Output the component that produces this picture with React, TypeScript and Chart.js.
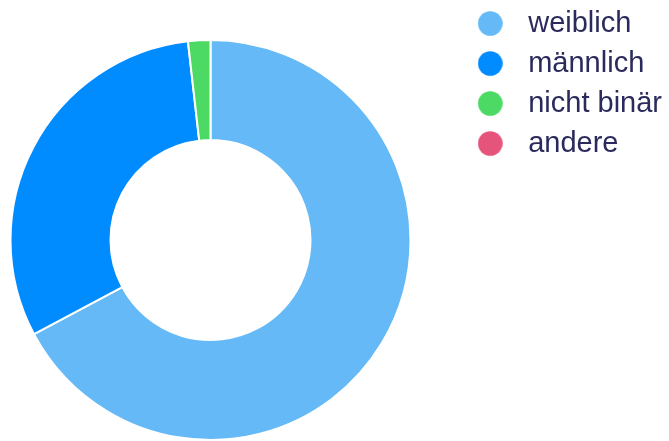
import React, { useEffect, useRef } from "react";
import { Chart, registerables } from "chart.js";

Chart.register(...registerables);

const categories = ["weiblich", "männlich", "nicht binär", "andere"];
const shares = [67.2, 31.0, 1.8, 0];
const colors = ["#64b9f6", "#008bff", "#4cd964", "#e5547a"];
const textColor = "#2b2a5c";

function dot(color: string): HTMLCanvasElement {
  const c = document.createElement("canvas");
  c.width = 25;
  c.height = 25;
  const ctx = c.getContext("2d")!;
  ctx.fillStyle = color;
  ctx.beginPath();
  ctx.arc(12.5, 12.5, 12.3, 0, Math.PI * 2);
  ctx.fill();
  return c;
}

// places the ring's centre where the reference has it (legend keeps its own box)
const ringArea = {
  id: "ringArea",
  afterLayout(chart: any) {
    const a = chart.chartArea;
    a.left = 10.5;
    a.right = 410.5;
    a.top = 40;
    a.bottom = 440;
    a.width = 400;
    a.height = 400;
  },
};

export default function App() {
  const ref = useRef<HTMLCanvasElement | null>(null);

  useEffect(() => {
    if (!ref.current) return;
    const dots = colors.map(dot);
    const chart = new Chart(ref.current, {
      type: "doughnut",
      data: {
        labels: categories,
        datasets: [
          {
            data: shares,
            backgroundColor: colors,
            borderColor: "#ffffff",
            borderWidth: 2,
          },
        ],
      },
      plugins: [ringArea],
      options: {
        animation: false,
        responsive: true,
        maintainAspectRatio: false,
        radius: 200,
        cutout: "50%",
        layout: { padding: { top: -2, bottom: 0, left: 0, right: -3 } },
        plugins: {
          tooltip: { enabled: false },
          legend: {
            position: "right",
            align: "start",
            labels: {
              usePointStyle: true,
              pointStyleWidth: 47,
              padding: 11,
              color: textColor,
              font: { family: "'Liberation Sans', Arial, sans-serif", size: 29 },
              generateLabels: (ch: any) =>
                ch.data.labels.map((l: string, i: number) => ({
                  text: l,
                  fillStyle: colors[i],
                  strokeStyle: colors[i],
                  lineWidth: 0,
                  pointStyle: dots[i],
                  fontColor: textColor,
                  hidden: false,
                  index: i,
                })),
            },
          },
        },
      } as any,
    });
    return () => chart.destroy();
  }, []);

  return (
    <div style={{ position: "fixed", left: 0, top: 0, width: 669, height: 441 }}>
      <canvas ref={ref} />
    </div>
  );
}
